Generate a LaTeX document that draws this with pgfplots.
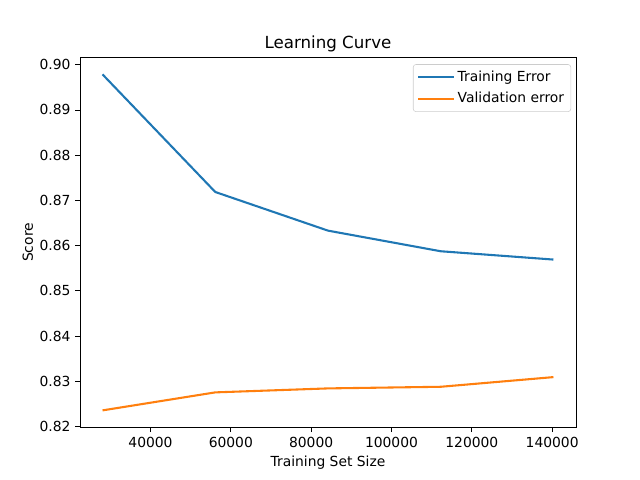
\documentclass[border=0pt]{standalone}
\usepackage{pgfplots}
\pgfplotsset{compat=1.18}
\usepackage{fontspec}
\setmainfont{DejaVu Sans}
\definecolor{mplblue}{HTML}{1F77B4}
\definecolor{mplorange}{HTML}{FF7F0E}
\begin{document}
\begin{tikzpicture}
\begin{axis}[
  scale only axis,
  width=372pt, height=277.2pt,
  xmin=22451.2, xmax=145932.8,
  ymin=0.81982, ymax=0.90158,
  xtick={40000,60000,80000,100000,120000,140000},
  ytick={0.82,0.83,0.84,0.85,0.86,0.87,0.88,0.89,0.90},
  scaled x ticks=false, scaled y ticks=false,
  xticklabel style={/pgf/number format/.cd, fixed, 1000 sep={}},
  yticklabel style={/pgf/number format/.cd, fixed, fixed zerofill, precision=2},
  /pgf/number format/assume math mode=true,
  tick align=outside,
  major tick length=3.65pt,
  tick style={black, line width=0.6pt},
  axis line style={line width=0.6pt},
  tick label style={font=\fontsize{10.4}{12}\selectfont},
  label style={font=\fontsize{10.4}{12}\selectfont},
  title style={font=\fontsize{12.5}{14}\selectfont, yshift=-5pt},
  xtick pos=bottom, ytick pos=left,
  title={Learning Curve},
  xlabel={Training Set Size},
  ylabel={Score},
  xlabel style={yshift=0.5pt},
  ylabel style={yshift=-2pt},
  legend style={at={(0.99,0.982)}, anchor=north east, draw=black!20, rounded corners=2pt,
    font=\fontsize{10.4}{12}\selectfont, row sep=2.5pt, inner xsep=3pt, inner ysep=3pt},
  legend cell align=left,
  legend image code/.code={\draw[#1, line width=1.56pt] (0cm,0cm) -- (0.74cm,0cm);
    \path (0cm,0cm) -- (0.94cm,0cm);},
]
\addplot[mplblue, line width=1.56pt] coordinates {
  (28064,0.89786) (56128,0.87185) (84192,0.86330) (112256,0.85874) (140320,0.85690)};
\addlegendentry{Training Error}
\addplot[mplorange, line width=1.56pt] coordinates {
  (28064,0.82354) (56128,0.82752) (84192,0.82840) (112256,0.82876) (140320,0.83090)};
\addlegendentry{Validation error}
\end{axis}
\path[use as bounding box] ([shift={(-60pt,-39.6pt)}]current axis.south west) rectangle ([shift={(48pt,43.2pt)}]current axis.north east);
\end{tikzpicture}
\end{document}
